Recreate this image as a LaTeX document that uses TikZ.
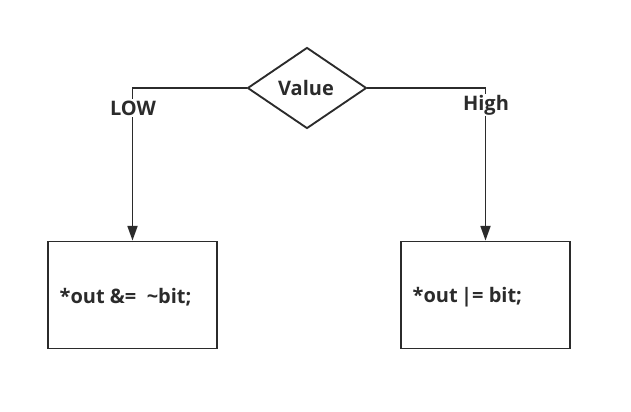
\documentclass[tikz,border=0pt]{standalone}
\usepackage{fontspec}
\setmainfont{Open Sans}
\usetikzlibrary{shapes.geometric,arrows.meta}
\definecolor{ink}{HTML}{2B2B2B}
\tikzset{
	flowbox/.style={draw=ink,line width=1.4pt,minimum width=126.75pt,minimum height=80.25pt,inner sep=0pt},
	choice/.style={draw=ink,line width=1.4pt,diamond,minimum width=89.25pt,minimum height=60.75pt,inner sep=0pt},
	flowline/.style={draw=ink,line width=1.3pt},
	tag/.style={fill=white,inner sep=1pt,text=ink,font=\bfseries\fontsize{15}{18}\selectfont}
}
\begin{document}
\begin{tikzpicture}[x=0.75pt,y=-0.75pt]
	\useasboundingbox (0,0) rectangle (631,411);
	\node[choice] (value) at (307,88) {};
	\node[text=ink,font=\bfseries\fontsize{15}{18}\selectfont] (valuetext) at (306,88) {Value};
	\node[flowbox] (lowbox) at (132.5,295) {};
	\node[flowbox] (highbox) at (485.5,295) {};
	\node[anchor=west,text=ink,font=\bfseries\fontsize{15}{18}\selectfont] (lowtext) at (55,297) {*out \&=~~\textasciitilde bit;};
	\node[anchor=west,text=ink,font=\bfseries\fontsize{15}{18}\selectfont] (hightext) at (408,297) {*out\,|= bit;};
	\draw[flowline,-{Triangle[length=11pt,width=7.5pt]}] (value.west) -| (lowbox.north);
	\draw[flowline,-{Triangle[length=11pt,width=7.5pt]}] (value.east) -| (highbox.north);
	\node[tag] (low) at (133,108) {LOW};
	\node[tag] (high) at (486,105) {High};
\end{tikzpicture}
\end{document}
